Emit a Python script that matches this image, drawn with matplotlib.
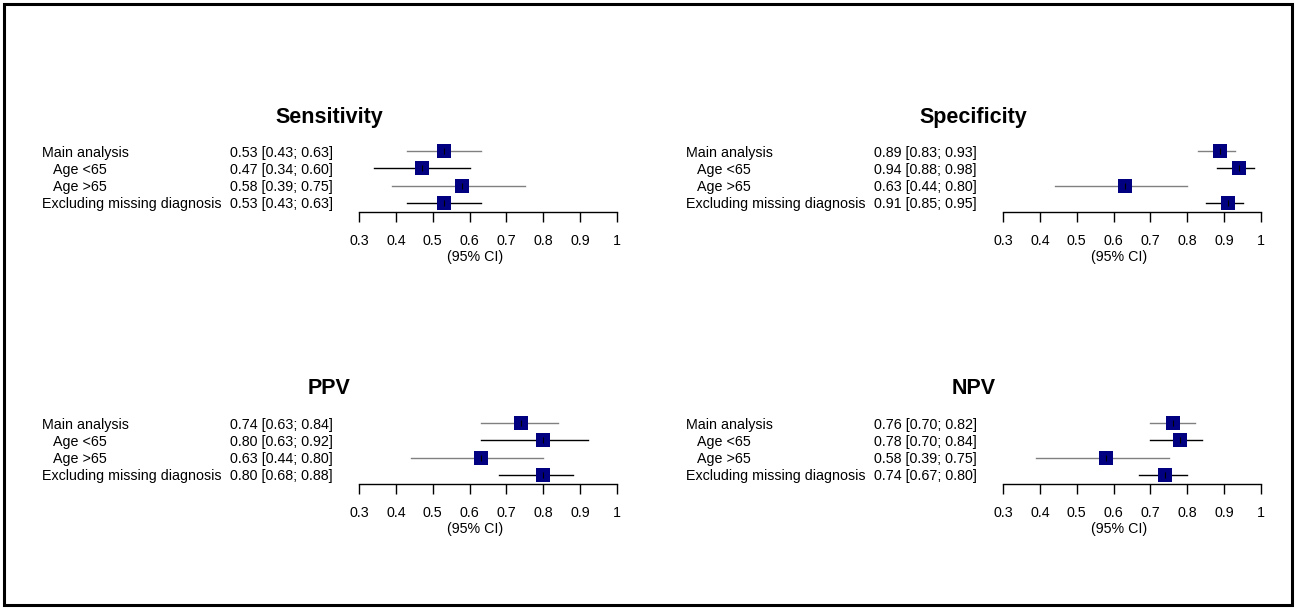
import numpy as np
import matplotlib
matplotlib.use("Agg")
from matplotlib import pyplot as plt
from matplotlib.patches import Rectangle

plt.rcParams["font.family"] = ["Liberation Sans", "DejaVu Sans"]

# data ------------------------------------------------------------
row_labels = ["Main analysis", "Age <65", "Age >65", "Excluding missing diagnosis"]
row_indent = [False, True, True, False]

panel_titles = ["Sensitivity", "Specificity", "PPV", "NPV"]
est = [
    [0.53, 0.47, 0.58, 0.53],
    [0.89, 0.94, 0.63, 0.91],
    [0.74, 0.80, 0.63, 0.80],
    [0.76, 0.78, 0.58, 0.74],
]
lower = [
    [0.43, 0.34, 0.39, 0.43],
    [0.83, 0.88, 0.44, 0.85],
    [0.63, 0.63, 0.44, 0.68],
    [0.70, 0.70, 0.39, 0.67],
]
upper = [
    [0.63, 0.60, 0.75, 0.63],
    [0.93, 0.98, 0.80, 0.95],
    [0.84, 0.92, 0.80, 0.88],
    [0.82, 0.84, 0.75, 0.80],
]
xticks = [0.3, 0.4, 0.5, 0.6, 0.7, 0.8, 0.9, 1.0]
xtick_labels = ["0.3", "0.4", "0.5", "0.6", "0.7", "0.8", "0.9", "1"]

W, H = 1296, 608
fig = plt.figure(figsize=(W / 100, H / 100), dpi=100)


def fx(px):
    return px / W


def fy(py):
    return 1 - py / H


# panel origins in pixels: (label x, axis left, axis right, first row y)
panels = [
    (42, 359, 617, 151),
    (686, 1003, 1261, 151),
    (42, 359, 617, 423),
    (686, 1003, 1261, 423),
]
row_step = 17.33
line_cols = ["#808080", "black", "#808080", "black"]
fs = 10.3

for i, (lab_x, ax_l, ax_r, row0) in enumerate(panels):
    top = row0 - 0.5 * row_step
    bottom = row0 + 3.52 * row_step
    ax = fig.add_axes([fx(ax_l), fy(bottom), fx(ax_r - ax_l), (bottom - top) / H])
    ax.set_xlim(0.3, 1.0)
    ax.set_ylim(4.52, 0.5)
    for s in ["top", "left", "right"]:
        ax.spines[s].set_visible(False)
    ax.spines["bottom"].set_linewidth(1.0)
    ax.set_yticks([])
    ax.set_xticks(xticks)
    ax.set_xticklabels(xtick_labels, fontsize=fs)
    ax.tick_params(axis="x", direction="out", length=7.5, width=1.0, pad=8)
    ax.patch.set_alpha(0)

    rows = np.arange(1, 5)
    for r in range(4):
        ax.plot([lower[i][r], upper[i][r]], [rows[r], rows[r]], color=line_cols[r], lw=1.0)
    ax.plot(est[i], rows, "s", color="#000080", markersize=9.5, markeredgewidth=0)
    ax.plot(est[i], rows, "|", color="black", markersize=4, markeredgewidth=0.8)

    ax.text(0.45, -0.65, "(95% CI)", transform=ax.transAxes, ha="center", va="center", fontsize=fs)

    # title centred over the whole panel
    title_y = row0 - 34
    fig.text(fx((lab_x + ax_r) / 2), fy(title_y), panel_titles[i], ha="center", va="center",
             fontsize=15.5, fontweight="bold")

    for r in range(4):
        y = row0 + r * row_step + 1.5
        x = lab_x + (11 if row_indent[r] else 0)
        fig.text(fx(x), fy(y), row_labels[r], ha="left", va="center", fontsize=fs)
        txt = f"{est[i][r]:.2f} [{lower[i][r]:.2f}; {upper[i][r]:.2f}]"
        fig.text(fx(lab_x + 188), fy(y), txt, ha="left", va="center", fontsize=fs)

# outer frame
fig.patches.append(Rectangle((fx(4), fy(605)), fx(1288), 601 / H, transform=fig.transFigure,
                             fill=False, edgecolor="black", lw=2.2))

fig.savefig("out.png", dpi=100)
